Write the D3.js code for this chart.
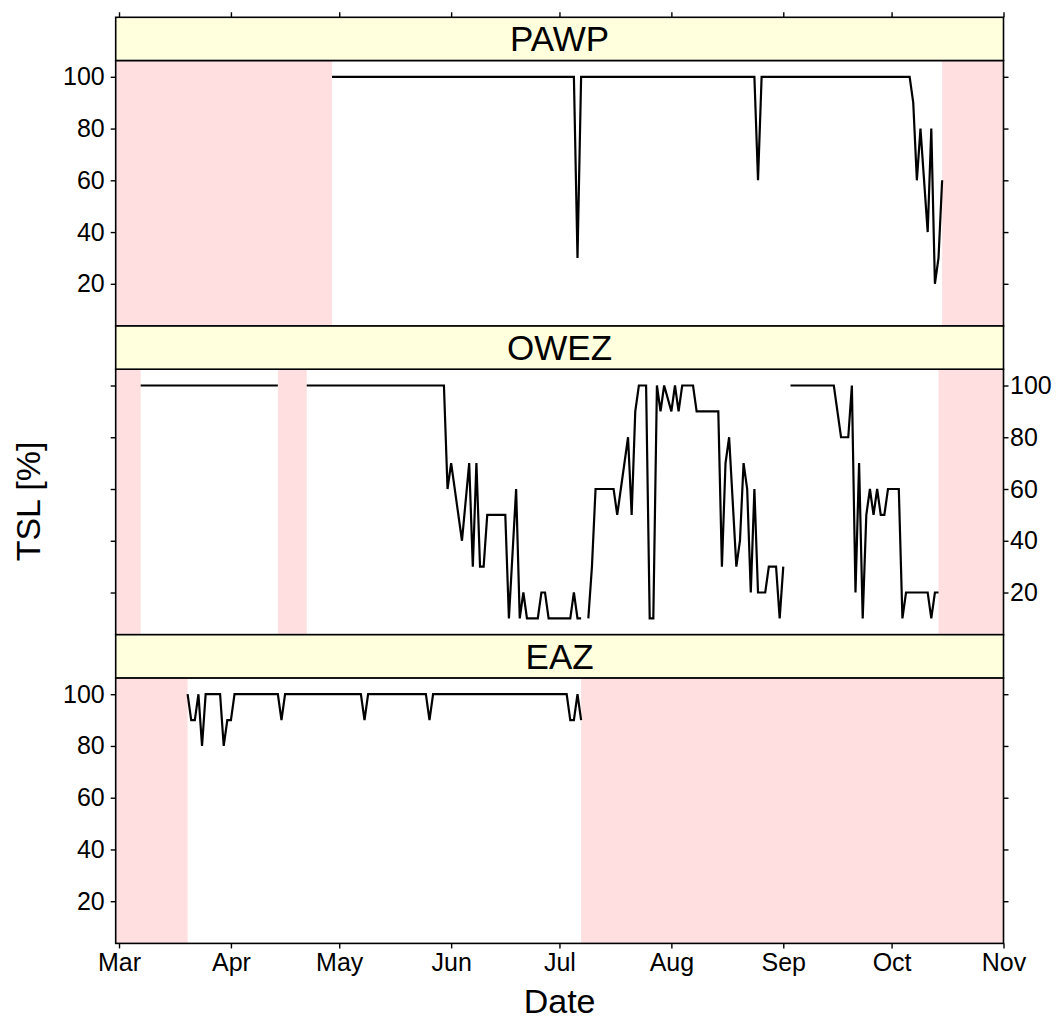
<!DOCTYPE html>
<html>
<head>
<meta charset="utf-8">
<script src="https://cdn.jsdelivr.net/npm/d3@7/dist/d3.min.js"></script>
<style>
  html, body { margin: 0; padding: 0; background: #fff; }
  svg { display: block; }
  text { font-family: "Liberation Sans", Arial, Helvetica, sans-serif; fill: #000; }
</style>
</head>
<body>
<svg id="chart" width="1060" height="1021"></svg>
<script>
// ---------------- data ----------------
const stations = ["PAWP", "OWEZ", "EAZ"];

const pawpDates  = ["2011-04-29","2011-07-05","2011-07-06","2011-07-07","2011-08-24","2011-08-25","2011-08-26",
                    "2011-10-06","2011-10-07","2011-10-08","2011-10-09","2011-10-11","2011-10-12","2011-10-13",
                    "2011-10-14","2011-10-15"];
const pawpValues = [100,100,30,100,100,60,100,
                    100,90,60,80,40,80,20,
                    30,60];

const owezDates  = ["2011-03-07","2011-04-14","2011-04-18","2011-04-22","2011-05-30","2011-05-31","2011-06-01",
                    "2011-06-04","2011-06-06","2011-06-07","2011-06-08","2011-06-09","2011-06-10","2011-06-11",
                    "2011-06-16","2011-06-17","2011-06-19","2011-06-20","2011-06-21","2011-06-22","2011-06-25",
                    "2011-06-26","2011-06-27","2011-06-28","2011-07-04","2011-07-05","2011-07-06","2011-07-07",
                    "2011-07-08","2011-07-09","2011-07-10","2011-07-11","2011-07-16","2011-07-17","2011-07-20",
                    "2011-07-21","2011-07-22","2011-07-23","2011-07-25","2011-07-26","2011-07-27","2011-07-28",
                    "2011-07-29","2011-07-30","2011-08-01","2011-08-02","2011-08-03","2011-08-04","2011-08-07",
                    "2011-08-08","2011-08-14","2011-08-15","2011-08-16","2011-08-17","2011-08-19","2011-08-20",
                    "2011-08-21","2011-08-22","2011-08-23","2011-08-24","2011-08-25","2011-08-27","2011-08-28",
                    "2011-08-30","2011-08-31","2011-09-01","2011-09-02","2011-09-03","2011-09-15","2011-09-17",
                    "2011-09-19","2011-09-20","2011-09-21","2011-09-22","2011-09-23","2011-09-24","2011-09-25",
                    "2011-09-26","2011-09-27","2011-09-28","2011-09-29","2011-09-30","2011-10-03","2011-10-04",
                    "2011-10-05","2011-10-11","2011-10-12","2011-10-13","2011-10-14"];
const owezValues = [100,100,null,100,100,60,70,
                    40,70,30,70,30,30,50,
                    50,10,60,10,20,10,10,
                    20,20,10,10,20,10,10,
                    null,10,30,60,60,50,80,
                    50,90,100,100,10,10,100,
                    90,100,90,100,90,100,100,
                    90,90,30,70,80,30,40,
                    70,60,20,60,20,20,30,
                    30,10,30,null,100,100,80,
                    80,100,20,70,10,50,60,
                    50,60,50,50,60,60,10,
                    20,20,10,20,20];

const eazDates  = ["2011-03-20","2011-03-21","2011-03-22","2011-03-23","2011-03-24","2011-03-25","2011-03-29",
                   "2011-03-30","2011-03-31","2011-04-01","2011-04-02","2011-04-14","2011-04-15","2011-04-16",
                   "2011-05-07","2011-05-08","2011-05-09","2011-05-25","2011-05-26","2011-05-27","2011-07-03",
                   "2011-07-04","2011-07-05","2011-07-06","2011-07-07"];
const eazValues = [100,90,90,100,80,100,100,
                   80,90,90,100,100,90,100,
                   100,90,100,100,90,100,100,
                   90,90,100,90];

// periods without data (shaded)
const pawpShade = [["2011-02-28","2011-04-29"], ["2011-10-15","2011-11-01"]];
const owezShade = [["2011-02-28","2011-03-07"], ["2011-04-14","2011-04-22"], ["2011-10-14","2011-11-01"]];
const eazShade  = [["2011-02-28","2011-03-20"], ["2011-07-07","2011-11-01"]];

const monthTicks  = ["2011-03-01","2011-04-01","2011-05-01","2011-06-01","2011-07-01","2011-08-01","2011-09-01","2011-10-01","2011-11-01"];
const monthLabels = ["Mar","Apr","May","Jun","Jul","Aug","Sep","Oct","Nov"];
const yTicks = [20, 40, 60, 80, 100];
const yDomain = [3.7, 106.3];

// ---------------- layout ----------------
const parse = d3.timeParse("%Y-%m-%d");
const panelLeft = 115.7, panelRight = 1003.5;
const top0 = 17.3, stripH = 43.2, panelH = 265.5;
const tickFont = 25, stripFont = 35, titleFont = 34;

const x = d3.scaleTime()
  .domain([new Date(2011, 1, 28, 2, 0), new Date(2011, 10, 1, 0, 0)])
  .range([panelLeft, panelRight]);

const svg = d3.select("#chart");

const series = [
  { dates: pawpDates, values: pawpValues, shade: pawpShade },
  { dates: owezDates, values: owezValues, shade: owezShade },
  { dates: eazDates,  values: eazValues,  shade: eazShade }
];

const tickDates = monthTicks.map(parse);
let lastBottom = 0;

stations.forEach((name, i) => {
  const s = series[i];
  const stripTop = top0 + i * (stripH + panelH);
  const pTop = stripTop + stripH;
  const pBottom = pTop + panelH;
  lastBottom = pBottom;

  const y = d3.scaleLinear().domain(yDomain).range([pBottom, pTop]);

  const g = svg.append("g");

  const clipId = "clip" + i;
  svg.append("clipPath").attr("id", clipId)
    .append("rect").attr("x", panelLeft).attr("y", pTop)
    .attr("width", panelRight - panelLeft).attr("height", panelH);

  g.append("rect").attr("x", panelLeft).attr("y", pTop)
    .attr("width", panelRight - panelLeft).attr("height", panelH)
    .attr("fill", "#fff");

  g.append("g").attr("clip-path", `url(#${clipId})`)
    .selectAll("rect").data(s.shade).join("rect")
    .attr("x", d => x(parse(d[0])))
    .attr("width", d => x(parse(d[1])) - x(parse(d[0])))
    .attr("y", pTop).attr("height", panelH)
    .attr("fill", "#ffdfe0");

  const pts = s.dates.map((d, k) => ({ t: parse(d), v: s.values[k] }));
  const line = d3.line()
    .defined(d => d.v !== null)
    .x(d => x(d.t))
    .y(d => y(d.v));
  g.append("path").datum(pts)
    .attr("clip-path", `url(#${clipId})`)
    .attr("d", line)
    .attr("fill", "none")
    .attr("stroke", "#000")
    .attr("stroke-width", 2.2)
    .attr("stroke-linejoin", "miter");

  g.append("rect").attr("x", panelLeft).attr("y", pTop)
    .attr("width", panelRight - panelLeft).attr("height", panelH)
    .attr("fill", "none").attr("stroke", "#000").attr("stroke-width", 1.6);

  g.append("rect").attr("x", panelLeft).attr("y", stripTop)
    .attr("width", panelRight - panelLeft).attr("height", stripH)
    .attr("fill", "#ffffdd").attr("stroke", "#000").attr("stroke-width", 1.6);
  g.append("text")
    .attr("x", (panelLeft + panelRight) / 2)
    .attr("y", stripTop + stripH / 2 + stripFont * 0.355)
    .attr("text-anchor", "middle")
    .style("font-size", stripFont + "px")
    .text(name);

  const leftAxis = d3.axisLeft(y).tickValues(yTicks).tickSize(5).tickPadding(6)
    .tickFormat(i === 1 ? () => "" : d3.format("d"));
  const rightAxis = d3.axisRight(y).tickValues(yTicks).tickSize(5).tickPadding(1.5)
    .tickFormat(i === 1 ? d3.format("d") : () => "");
  [[leftAxis, panelLeft], [rightAxis, panelRight]].forEach(([ax, xp]) => {
    const a = svg.append("g").attr("transform", `translate(${xp},0)`).call(ax);
    a.select(".domain").remove();
    a.selectAll(".tick line").attr("stroke", "#000").attr("stroke-width", 1.4);
    a.selectAll(".tick text").style("font-size", tickFont + "px")
      .attr("font-family", null).attr("fill", "#000");
  });
});

const topAxis = d3.axisTop(x).tickValues(tickDates).tickSize(5).tickFormat(() => "");
const ta = svg.append("g").attr("transform", `translate(0,${top0})`).call(topAxis);
ta.select(".domain").remove();
ta.selectAll(".tick line").attr("stroke", "#000").attr("stroke-width", 1.4);

const bottomAxis = d3.axisBottom(x).tickValues(tickDates).tickSize(5).tickPadding(5)
  .tickFormat((d, k) => monthLabels[k]);
const ba = svg.append("g").attr("transform", `translate(0,${lastBottom})`).call(bottomAxis);
ba.select(".domain").remove();
ba.selectAll(".tick line").attr("stroke", "#000").attr("stroke-width", 1.4);
ba.selectAll(".tick text").style("font-size", tickFont + "px").attr("font-family", null).attr("fill", "#000");

svg.append("text")
  .attr("x", (panelLeft + panelRight) / 2)
  .attr("y", 1013)
  .attr("text-anchor", "middle")
  .style("font-size", titleFont + "px")
  .text("Date");

svg.append("text")
  .attr("transform", "translate(40,501.5) rotate(-90)")
  .attr("text-anchor", "middle")
  .style("font-size", titleFont + "px")
  .text("TSL [%]");
</script>
</body>
</html>
